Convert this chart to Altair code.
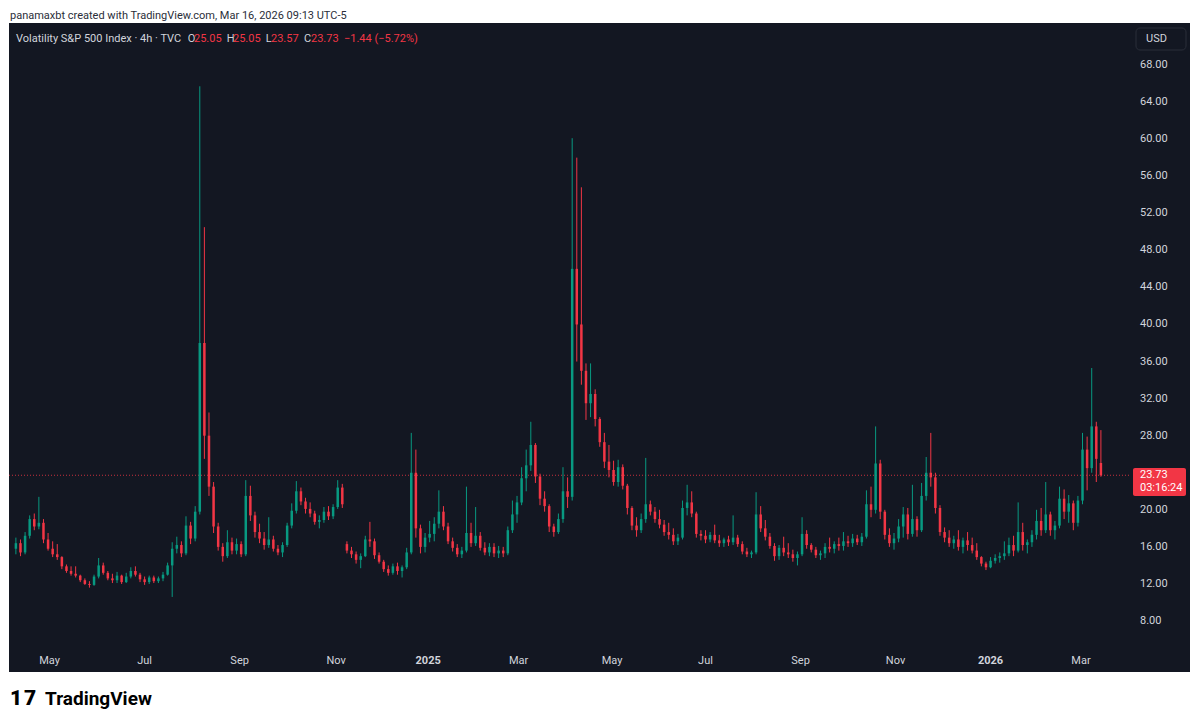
import altair as alt
import pandas as pd

# ---- VIX candles (3-day sampling) ----
opens = [15.8,16.4,15.4,17.2,19.0,18.2,18.6,16.8,15.8,15.2,14.9,13.9,13.4,13.1,12.9,12.4,12.0,11.9,12.8,14.0,
         13.2,12.6,12.4,12.9,12.2,12.8,13.4,13.0,12.5,12.2,12.7,12.3,12.6,13.0,14.0,15.8,16.2,15.3,18.3,16.9,
         19.8,38.0,28.0,22.5,18.2,16.0,15.0,16.5,15.6,16.3,15.2,21.5,19.4,17.6,16.9,16.2,16.8,15.8,15.4,16.2,
         18.3,19.9,22.0,20.9,20.1,19.6,18.7,18.9,19.8,19.3,20.3,22.4,16.3,15.6,15.2,14.6,15.0,16.8,16.6,15.1,
         14.4,13.6,13.2,13.9,13.4,13.8,15.4,24.0,18.0,16.0,17.0,17.4,18.5,19.8,18.2,16.6,15.9,15.2,15.6,17.5,
         16.4,17.2,15.9,15.4,16.0,15.3,15.6,15.3,17.8,19.5,20.8,23.4,24.8,27.0,23.6,21.2,20.4,18.2,17.6,19.0,
         22.0,21.4,46.0,40.0,35.0,31.5,32.5,29.8,27.3,25.2,24.3,23.0,24.6,22.6,20.2,18.3,17.8,19.0,20.6,19.8,
         19.0,18.4,17.6,17.3,16.6,17.0,20.2,20.8,19.6,17.4,17.2,16.8,17.3,16.7,16.4,16.8,16.5,17.0,16.3,15.5,
         15.2,15.4,19.5,18.0,17.1,16.1,15.0,15.9,15.4,15.2,14.8,15.2,17.4,16.2,15.7,15.1,15.3,16.0,15.8,16.3,
         16.1,16.6,16.4,16.9,16.5,17.1,20.6,20.0,25.0,19.8,17.3,16.4,16.9,18.2,19.5,17.4,19.0,17.8,21.5,24.0,
         23.5,20.2,17.6,17.0,16.4,16.8,16.0,16.7,16.2,15.6,14.9,14.2,13.8,14.5,14.8,15.0,15.3,16.2,15.6,17.6,
         16.2,16.5,17.3,18.8,17.8,19.5,17.8,18.3,21.2,19.8,20.7,18.6,21.0,26.5,24.5,29.0,25.05]
highs = [17.0,16.8,17.6,19.4,19.6,21.4,19.0,17.5,16.6,16.3,15.0,14.1,13.9,13.9,13.0,12.6,12.3,13.0,14.8,14.3,
         13.4,13.1,13.3,13.0,13.2,13.8,13.9,13.2,12.8,12.9,12.9,12.8,13.3,14.3,16.5,17.1,16.6,19.3,18.7,20.4,
         65.7,50.5,30.5,23.0,18.6,16.4,17.8,17.0,16.9,16.6,23.2,22.6,19.8,18.5,17.6,19.2,17.2,16.2,16.5,18.6,
         20.7,23.1,22.4,21.3,20.8,19.9,19.4,20.3,20.4,20.6,23.2,22.8,16.6,16.0,15.5,15.3,17.2,18.7,16.9,15.4,
         14.6,14.0,14.2,14.3,14.0,15.9,28.3,26.5,18.4,17.5,18.8,19.2,22.1,20.4,18.6,17.0,16.3,16.0,22.5,18.6,
         20.3,17.6,16.5,16.4,16.4,16.1,16.0,18.2,21.0,21.5,24.6,26.5,29.5,27.2,23.9,22.0,20.6,18.5,19.6,24.6,
         23.5,60.1,58.0,54.8,35.8,35.8,33.0,30.0,28.3,27.0,25.3,25.4,24.9,22.8,20.4,19.2,19.6,25.6,21.0,20.3,
         20.0,18.9,18.6,18.0,17.4,21.0,22.7,22.0,19.8,17.8,17.8,17.6,18.4,17.3,17.0,17.2,19.4,17.3,16.6,15.9,
         15.6,21.9,20.4,18.9,17.5,16.4,16.2,17.1,16.4,15.7,15.5,19.2,17.8,16.4,16.0,15.6,16.4,17.0,16.6,17.0,
         17.6,17.2,17.4,17.3,17.5,22.1,22.5,29.0,25.4,20.0,18.0,17.5,19.0,20.3,20.2,22.7,19.3,22.9,25.7,28.3,
         24.0,20.5,18.1,17.8,17.2,17.8,17.0,17.6,17.0,16.4,15.0,14.4,14.9,15.2,15.4,16.6,17.0,17.2,20.8,18.6,
         16.8,17.8,20.0,20.2,23.0,19.8,18.8,22.5,22.2,21.6,21.0,21.5,28.3,27.9,35.3,29.5,28.6]
lows = [15.2,15.0,15.2,16.9,17.8,17.9,16.4,15.6,14.9,14.6,13.6,13.2,12.9,12.7,12.2,11.9,11.6,11.8,12.6,13.0,
        12.4,12.1,12.1,12.0,12.1,12.6,12.8,12.2,11.9,12.0,12.1,12.1,12.3,12.9,10.6,15.3,14.9,15.1,16.3,16.6,
        19.5,25.5,21.5,17.5,15.6,14.4,14.8,15.2,15.2,14.9,15.0,18.8,17.0,16.4,15.7,15.9,15.5,15.1,14.9,16.0,
        18.0,19.6,20.5,19.6,19.2,18.4,18.0,18.6,18.9,19.0,20.1,20.2,15.3,14.8,14.2,13.7,14.9,16.0,14.7,14.2,
        13.3,12.9,13.0,13.0,12.7,13.6,15.2,17.0,15.3,15.4,16.5,16.6,18.0,17.8,16.3,15.5,14.9,14.8,15.4,16.0,
        16.1,15.6,15.1,15.0,14.9,14.8,14.9,15.1,17.5,18.6,20.5,22.0,24.2,22.9,20.5,19.8,17.6,17.1,17.4,18.6,
        20.2,21.0,36.0,33.5,29.7,30.0,29.0,26.8,24.5,23.5,22.6,22.5,22.2,19.5,17.8,17.1,17.5,18.6,19.4,18.6,
        18.0,17.2,16.8,16.2,16.2,16.8,19.4,19.2,17.0,16.7,16.4,16.5,16.4,16.0,16.0,16.1,16.2,16.0,15.2,14.9,
        14.8,15.2,17.6,16.7,15.8,14.5,14.6,15.0,14.8,14.4,14.0,15.0,15.8,15.4,14.8,14.6,14.8,15.4,15.3,15.6,
        15.6,16.0,16.0,16.2,16.1,16.9,19.2,19.6,19.0,16.8,16.0,15.7,16.5,17.0,16.8,17.1,17.1,17.6,21.0,22.5,
        19.6,17.2,16.5,16.0,15.8,15.6,15.3,15.6,15.3,14.6,13.9,13.5,13.7,14.2,14.3,14.6,15.0,15.0,15.4,15.6,
        15.3,16.0,16.8,17.2,17.5,17.2,16.8,18.0,19.0,18.6,17.8,18.2,20.6,22.1,24.0,23.0,23.57]
closes = [16.4,15.4,17.2,19.0,18.2,18.6,16.8,15.8,15.2,14.9,13.9,13.4,13.1,12.9,12.4,12.0,11.9,12.8,14.0,13.2,
          12.6,12.4,12.9,12.2,12.8,13.4,13.0,12.5,12.2,12.7,12.3,12.6,13.0,14.0,15.8,16.2,15.3,18.3,16.9,19.8,
          38.0,28.0,22.5,18.2,16.0,15.0,16.5,15.6,16.3,15.2,21.5,19.4,17.6,16.9,16.2,16.8,15.8,15.4,16.2,18.3,
          19.9,22.0,20.9,20.1,19.6,18.7,18.9,19.8,19.3,20.3,22.4,20.6,15.6,15.2,14.6,15.0,16.8,16.6,15.1,14.4,
          13.6,13.2,13.9,13.4,13.8,15.4,24.0,18.0,16.0,17.0,17.4,18.5,19.8,18.2,16.6,15.9,15.2,15.6,17.5,16.4,
          17.2,15.9,15.4,16.0,15.3,15.6,15.3,17.8,19.5,20.8,23.4,24.8,27.0,23.6,21.2,20.4,18.2,17.6,19.0,22.0,
          21.4,46.0,40.0,35.0,31.5,32.5,29.8,27.3,25.2,24.3,23.0,24.6,22.6,20.2,18.3,17.8,19.0,20.6,19.8,19.0,
          18.4,17.6,17.3,16.6,17.0,20.2,20.8,19.6,17.4,17.2,16.8,17.3,16.7,16.4,16.8,16.5,17.0,16.3,15.5,15.2,
          15.4,19.5,18.0,17.1,16.1,15.0,15.9,15.4,15.2,14.8,15.2,17.4,16.2,15.7,15.1,15.3,16.0,15.8,16.3,16.1,
          16.6,16.4,16.9,16.5,17.1,20.6,20.0,25.0,19.8,17.3,16.4,16.9,18.2,19.5,17.4,19.0,17.8,21.5,24.0,23.5,
          20.2,17.6,17.0,16.4,16.8,16.0,16.7,16.2,15.6,14.9,14.2,13.8,14.5,14.8,15.0,15.3,16.2,15.6,17.6,16.2,
          16.5,17.3,18.8,17.8,19.5,17.8,18.3,21.2,19.8,20.7,18.6,21.0,26.5,24.5,29.0,25.5,23.73]

first_date = "2024-04-07"
step_days = 3

# price scale labels (24.00 is hidden behind the last-price tag)
price_ticks = [68, 64, 60, 56, 52, 48, 44, 40, 36, 32, 28, 20, 16, 12, 8]

# time labels
month_dates = ["2024-04-29", "2024-06-30", "2024-08-31", "2024-11-02", "2025-03-01",
               "2025-05-01", "2025-07-01", "2025-09-01", "2025-11-02", "2026-03-03"]
month_labels = ["May", "Jul", "Sep", "Nov", "Mar", "May", "Jul", "Sep", "Nov", "Mar"]
year_dates = ["2025-01-01", "2026-01-03"]
year_labels = ["2025", "2026"]

last_price = 23.73
last_bar = {"O": "25.05", "H": "25.05", "L": "23.57", "C": "23.73"}
change_text = "\u22121.44 (\u22125.72%)"
countdown = "03:16:24"

# ---- styling ----
BG = "#131722"
UP = "#089981"
DOWN = "#f23645"
TXT = "#d1d4dc"
FONT = "Roboto"

n = len(closes)
dates = pd.date_range(first_date, periods=n, freq=f"{step_days}D").strftime("%Y-%m-%d")
df = pd.DataFrame({"date": dates, "open": opens, "high": highs, "low": lows, "close": closes})

def ms(s):
    return int(pd.Timestamp(s, tz="UTC").value // 10**6)

xscale = alt.Scale(type="utc", domain=[ms("2024-04-05 18:28"), ms("2026-05-09 21:00")])
yscale = alt.Scale(domain=[2.5, 72.53], nice=False, zero=False)

X = alt.X("date:T", scale=xscale, axis=None)
col = alt.condition("datum.close >= datum.open", alt.value(UP), alt.value(DOWN))

wicks = alt.Chart(df).mark_rule(strokeWidth=1).encode(
    x=X, y=alt.Y("low:Q", scale=yscale, axis=None), y2="high:Q", color=col)
bodies = alt.Chart(df).mark_bar(size=2.5).encode(
    x=X, y=alt.Y("open:Q", scale=yscale, axis=None), y2="close:Q", color=col)

one = pd.DataFrame({"a": [0]})

price_line = alt.Chart(one).mark_rule(color=DOWN, strokeDash=[1, 2], strokeWidth=1, opacity=0.8).encode(
    y=alt.Y(datum=last_price, scale=yscale, axis=None), x=alt.value(0), x2=alt.value(1121))

ydf = pd.DataFrame({"v": price_ticks, "lab": [f"{t:.2f}" for t in price_ticks]})
ylabels = alt.Chart(ydf).mark_text(align="left", baseline="middle", font=FONT, fontSize=11, color=TXT).encode(
    y=alt.Y("v:Q", scale=yscale, axis=None), x=alt.value(1131), text="lab:N")

mdf = pd.DataFrame({"d": month_dates, "lab": month_labels})
xlabels = alt.Chart(mdf).mark_text(align="center", baseline="middle", font=FONT, fontSize=11, color=TXT).encode(
    x=alt.X("d:T", scale=xscale, axis=None), y=alt.value(638), text="lab:N")
ydf2 = pd.DataFrame({"d": year_dates, "lab": year_labels})
ylab_years = alt.Chart(ydf2).mark_text(align="center", baseline="middle", font=FONT, fontSize=11,
                                       fontWeight="bold", color=TXT).encode(
    x=alt.X("d:T", scale=xscale, axis=None), y=alt.value(638), text="lab:N")

tag = alt.Chart(one).mark_rect(color=DOWN, cornerRadius=2).encode(
    x=alt.value(1124), x2=alt.value(1177), y=alt.value(445), y2=alt.value(473))
tag_t1 = alt.Chart(one).mark_text(align="left", baseline="middle", font=FONT, fontSize=11, color="#ffffff").encode(
    x=alt.value(1131), y=alt.value(452), text=alt.value(f"{last_price:.2f}"))
tag_t2 = alt.Chart(one).mark_text(align="left", baseline="middle", font=FONT, fontSize=11, color="#ffffff").encode(
    x=alt.value(1131), y=alt.value(465), text=alt.value(countdown))

usd = alt.Chart(one).mark_rect(fill=BG, stroke="#2a2e39", strokeWidth=1, cornerRadius=4).encode(
    x=alt.value(1127), x2=alt.value(1177), y=alt.value(5), y2=alt.value(27))
usd_t = alt.Chart(one).mark_text(align="left", baseline="middle", font=FONT, fontSize=11, color=TXT).encode(
    x=alt.value(1137), y=alt.value(16), text=alt.value("USD"))

def txt(s, x, y, color=TXT, size=11, weight="normal", baseline="alphabetic"):
    return alt.Chart(one).mark_text(align="left", baseline=baseline, font=FONT, fontSize=size,
                                    fontWeight=weight, color=color).encode(
        x=alt.value(x), y=alt.value(y), text=alt.value(s))

header = [
    txt("Volatility S&P 500 Index \u00b7 4h \u00b7 TVC", 7, 18.5),
    txt("O", 178.7, 18.5), txt(last_bar["O"], 185, 18.5, DOWN),
    txt("H", 217.7, 18.5), txt(last_bar["H"], 224, 18.5, DOWN),
    txt("L", 256.7, 18.5), txt(last_bar["L"], 262, 18.5, DOWN),
    txt("C", 295, 18.5), txt(last_bar["C"], 302, 18.5, DOWN),
    txt(change_text, 335, 18.5, DOWN),
    txt("panamaxbt created with TradingView.com, Mar 16, 2026 09:13 UTC-5", 1, -4.5, "#2a2e39", 11),
    txt("1", 1, 682, "#000000", 21, 900),
    txt("7", 15, 682, "#000000", 21, 900),
    txt("TradingView", 36, 682, "#000000", 19, "bold"),
]

chart = alt.layer(
    price_line, wicks, bodies, ylabels, xlabels, ylab_years, tag, tag_t1, tag_t2, usd, usd_t, *header
).properties(
    width=1181, height=649,
    padding={"left": 1, "top": 15, "right": 2, "bottom": 46},
    autosize=alt.AutoSizeParams(type="none"),
    background="#ffffff",
).configure_view(fill=BG, stroke=None)

chart.save("out.html", embed_options={"renderer": "svg", "actions": False})
